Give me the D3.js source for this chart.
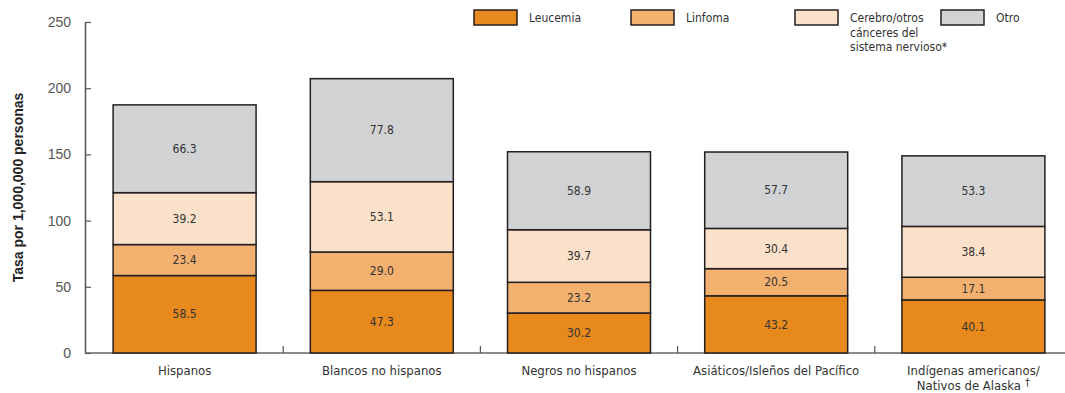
<!DOCTYPE html>
<html>
<head>
<meta charset="utf-8">
<script src="https://cdn.jsdelivr.net/npm/d3@7"></script>
<style>
  body { margin: 0; background: #fff; }
  svg { display: block; font-family: "Liberation Sans Narrow", "Arial Narrow", "DejaVu Sans Condensed", sans-serif; }
</style>
</head>
<body>
<div id="chart"></div>
<script>
const groups = ["Hispanos", "Blancos no hispanos", "Negros no hispanos", "Asiáticos/Isleños del Pacífico", "Indígenas americanos/Nativos de Alaska"];
const seriesNames = ["Leucemia", "Linfoma", "Cerebro/otros cánceres del sistema nervioso*", "Otro"];
const leucemia = [58.5, 47.3, 30.2, 43.2, 40.1];
const linfoma = [23.4, 29.0, 23.2, 20.5, 17.1];
const cerebro = [39.2, 53.1, 39.7, 30.4, 38.4];
const otro = [66.3, 77.8, 58.9, 57.7, 53.3];
const yTicks = [0, 50, 100, 150, 200, 250];

document.addEventListener("DOMContentLoaded", () => {
  const width = 1065;
  const height = 393;
  const colors = ["#e8891e", "#f3b170", "#fbe1c9", "#d1d2d4"];

  const svg = d3.select("#chart").append("svg").attr("width", width).attr("height", height);

  const x = d3.scaleBand().domain(groups).range([86, 1072]).paddingInner(0.275).paddingOuter(0.1375);
  const y = d3.scaleLinear().domain([0, 250]).range([353, 22]);

  const rows = groups.map((g, i) => ({ group: g, s0: leucemia[i], s1: linfoma[i], s2: cerebro[i], s3: otro[i] }));
  const stack = d3.stack().keys(["s0", "s1", "s2", "s3"])(rows);

  // axes
  const yAxis = d3.axisLeft(y).tickValues(yTicks).tickSizeInner(-6).tickSizeOuter(0).tickPadding(14);
  const gy = svg.append("g").attr("transform", "translate(85,0)").call(yAxis);
  gy.select(".domain").attr("stroke", "#555").attr("stroke-width", 1.5);
  gy.selectAll(".tick line").attr("stroke", "#555").attr("stroke-width", 1.2);
  gy.selectAll(".tick text").attr("fill", "#555").attr("font-size", 14).attr("font-family", "Liberation Sans Narrow, Arial Narrow, sans-serif");

  svg.append("line").attr("x1", 85).attr("x2", width).attr("y1", 353).attr("y2", 353)
    .attr("stroke", "#666").attr("stroke-width", 1.5);

  // small ticks between groups
  const bw = x.step();
  svg.selectAll(".sep").data(groups.slice(1)).enter().append("line")
    .attr("x1", (d) => x(d) - x.paddingInner() * bw / 2)
    .attr("x2", (d) => x(d) - x.paddingInner() * bw / 2)
    .attr("y1", 353).attr("y2", 346)
    .attr("stroke", "#555").attr("stroke-width", 1.2);

  svg.append("text")
    .attr("transform", "translate(23," + y(125) + ") rotate(-90)")
    .attr("text-anchor", "middle")
    .attr("font-weight", "bold")
    .attr("font-size", 14)
    .attr("fill", "#222")
    .attr("font-family", "Liberation Sans, Arial, sans-serif")
    .text("Tasa por 1,000,000 personas");

  // bars
  const layers = svg.selectAll(".layer").data(stack).enter().append("g")
    .attr("fill", (d, i) => colors[i]);

  layers.selectAll("rect").data((d) => d).enter().append("rect")
    .attr("x", (d) => x(d.data.group))
    .attr("width", x.bandwidth())
    .attr("y", (d) => y(d[1]))
    .attr("height", (d) => y(d[0]) - y(d[1]))
    .attr("stroke", "#231f20")
    .attr("stroke-width", 1.5);

  layers.selectAll("text").data((d) => d).enter().append("text")
    .attr("x", (d) => x(d.data.group) + x.bandwidth() / 2)
    .attr("y", (d) => (y(d[0]) + y(d[1])) / 2)
    .attr("dy", "0.35em")
    .attr("text-anchor", "middle")
    .attr("font-size", 12)
    .attr("fill", "#333")
    .text((d) => (d[1] - d[0]).toFixed(1));

  // x labels
  const labelLines = [["Hispanos"], ["Blancos no hispanos"], ["Negros no hispanos"], ["Asiáticos/Isleños del Pacífico"], ["Indígenas americanos/", "Nativos de Alaska"]];
  groups.forEach((g, i) => {
    const t = svg.append("text")
      .attr("x", x(g) + x.bandwidth() / 2)
      .attr("y", 375)
      .attr("text-anchor", "middle")
      .attr("font-size", 13)
      .attr("fill", "#333");
    labelLines[i].forEach((line, j) => {
      const ts = t.append("tspan").attr("x", x(g) + x.bandwidth() / 2).attr("dy", j === 0 ? 0 : 15).text(line);
      if (i === 4 && j === 1) {
        ts.append("tspan").attr("dx", 4).attr("dy", -4).attr("font-size", 11).text("†");
      }
    });
  });

  // legend
  const legendX = [474, 631, 795, 941];
  const legendLines = [["Leucemia"], ["Linfoma"], ["Cerebro/otros", "cánceres del", "sistema nervioso*"], ["Otro"]];
  seriesNames.forEach((name, i) => {
    const g = svg.append("g").attr("transform", "translate(" + legendX[i] + ",10)");
    g.append("rect").attr("width", 43).attr("height", 15)
      .attr("fill", colors[i]).attr("stroke", "#231f20").attr("stroke-width", 1.5);
    const t = g.append("text").attr("x", 55).attr("y", 12)
      .attr("font-size", 12).attr("fill", "#333");
    legendLines[i].forEach((line, j) => {
      t.append("tspan").attr("x", 55).attr("dy", j === 0 ? 0 : 14.5).text(line);
    });
  });
});
</script>
</body>
</html>
